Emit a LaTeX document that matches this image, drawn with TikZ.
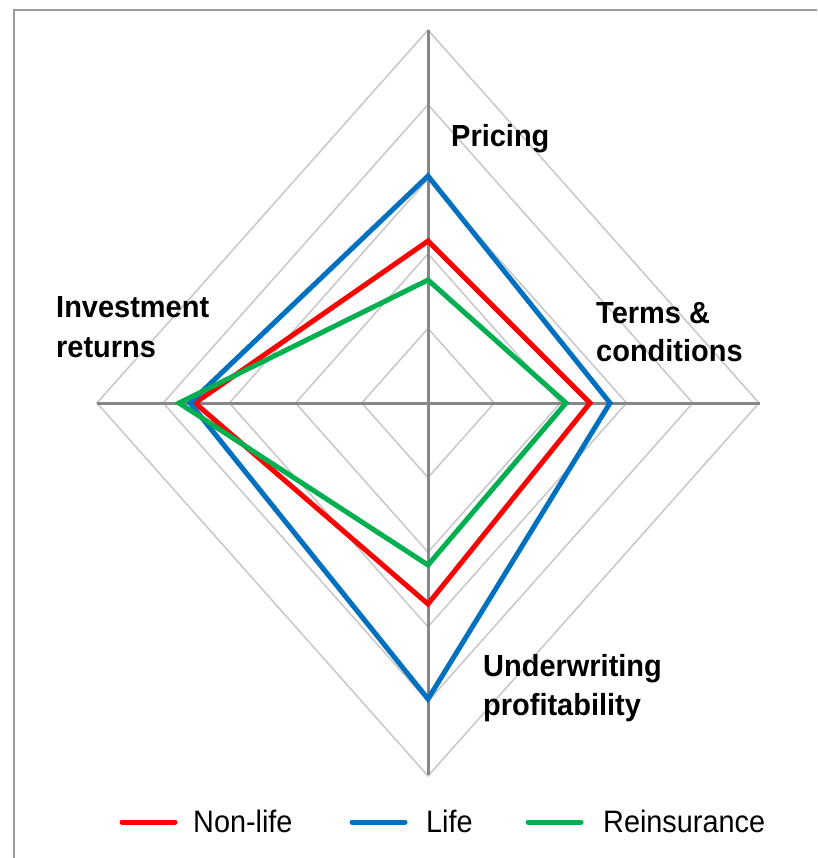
\documentclass[tikz,border=0pt]{standalone}
\usepackage{fontspec}
\usetikzlibrary{calc}
\setmainfont{Liberation Sans}[FakeStretch=0.95]
\newfontfamily\legfont{Liberation Sans}[FakeStretch=0.93]
\begin{document}
\begin{tikzpicture}[x=1pt,y=-1pt,
  axisline/.style={draw=black!47,line width=3pt},
  gridline/.style={draw=black!22,line width=1.5pt},
  series/.style={line width=5pt,line join=miter},
  lab/.style={anchor=base west,inner sep=0pt,font=\fontsize{30.5}{40}\selectfont\bfseries},
  leg/.style={anchor=base west,inner sep=0pt,font=\legfont\fontsize{31}{36}\selectfont},
  legline/.style={line width=5pt,line cap=round}]
\definecolor{cred}{HTML}{FF0000}
\definecolor{cblue}{HTML}{0070C0}
\definecolor{cgreen}{HTML}{00B050}
\useasboundingbox (0,0) rectangle (817,858);
% frame
\draw[draw=black!40,line width=2pt] (14,858) -- (14,10) -- (817,10);
% centre
\coordinate (O) at (428,403);
% grid rings
\foreach \k in {1,...,5}{
  \draw[gridline] ($(O)+(0,-74.6*\k)$) -- ($(O)+(66.2*\k,0)$) -- ($(O)+(0,74.6*\k)$) -- ($(O)+(-66.2*\k,0)$) -- cycle;
}
% axes
\coordinate (T) at (428,30);
\coordinate (B) at (428,775);
\coordinate (L) at (97,403);
\coordinate (R) at (760,403);
\draw[axisline] (T) -- (B);
\draw[axisline] (L) -- (R);
% series
\coordinate (r1) at (428,241); \coordinate (r2) at (590,403); \coordinate (r3) at (428,604); \coordinate (r4) at (195,403);
\coordinate (b1) at (428,176); \coordinate (b2) at (610,403); \coordinate (b3) at (428,699); \coordinate (b4) at (190,403);
\coordinate (g1) at (428,280); \coordinate (g2) at (566,403); \coordinate (g3) at (428,565); \coordinate (g4) at (179,403);
\draw[series,cred] (r1) -- (r2) -- (r3) -- (r4) -- cycle;
\draw[series,cblue] (b1) -- (b2) -- (b3) -- (b4) -- cycle;
\draw[series,cgreen] (g1) -- (g2) -- (g3) -- (g4) -- cycle;
% labels
\node[lab] (pr) at (451,147) {Pricing};
\node[lab] (tc1) at (596,323) {Terms \&};
\node[lab] (tc2) at (596,361) {conditions};
\node[lab] (ir1) at (56,317) {Investment};
\node[lab] (ir2) at (56,357) {returns};
\node[lab] (uw1) at (483,676) {Underwriting};
\node[lab] (uw2) at (483,715) {profitability};
% legend
\coordinate (l1a) at (122,822); \coordinate (l1b) at (175,822);
\coordinate (l2a) at (352,822); \coordinate (l2b) at (405,822);
\coordinate (l3a) at (528,822); \coordinate (l3b) at (581,822);
\draw[legline,cred] (l1a) -- (l1b);
\draw[legline,cblue] (l2a) -- (l2b);
\draw[legline,cgreen] (l3a) -- (l3b);
\node[leg] (n1) at (193,832) {Non-life};
\node[leg] (n2) at (426,832) {Life};
\node[leg] (n3) at (603,832) {Reinsurance};
\end{tikzpicture}
\end{document}
